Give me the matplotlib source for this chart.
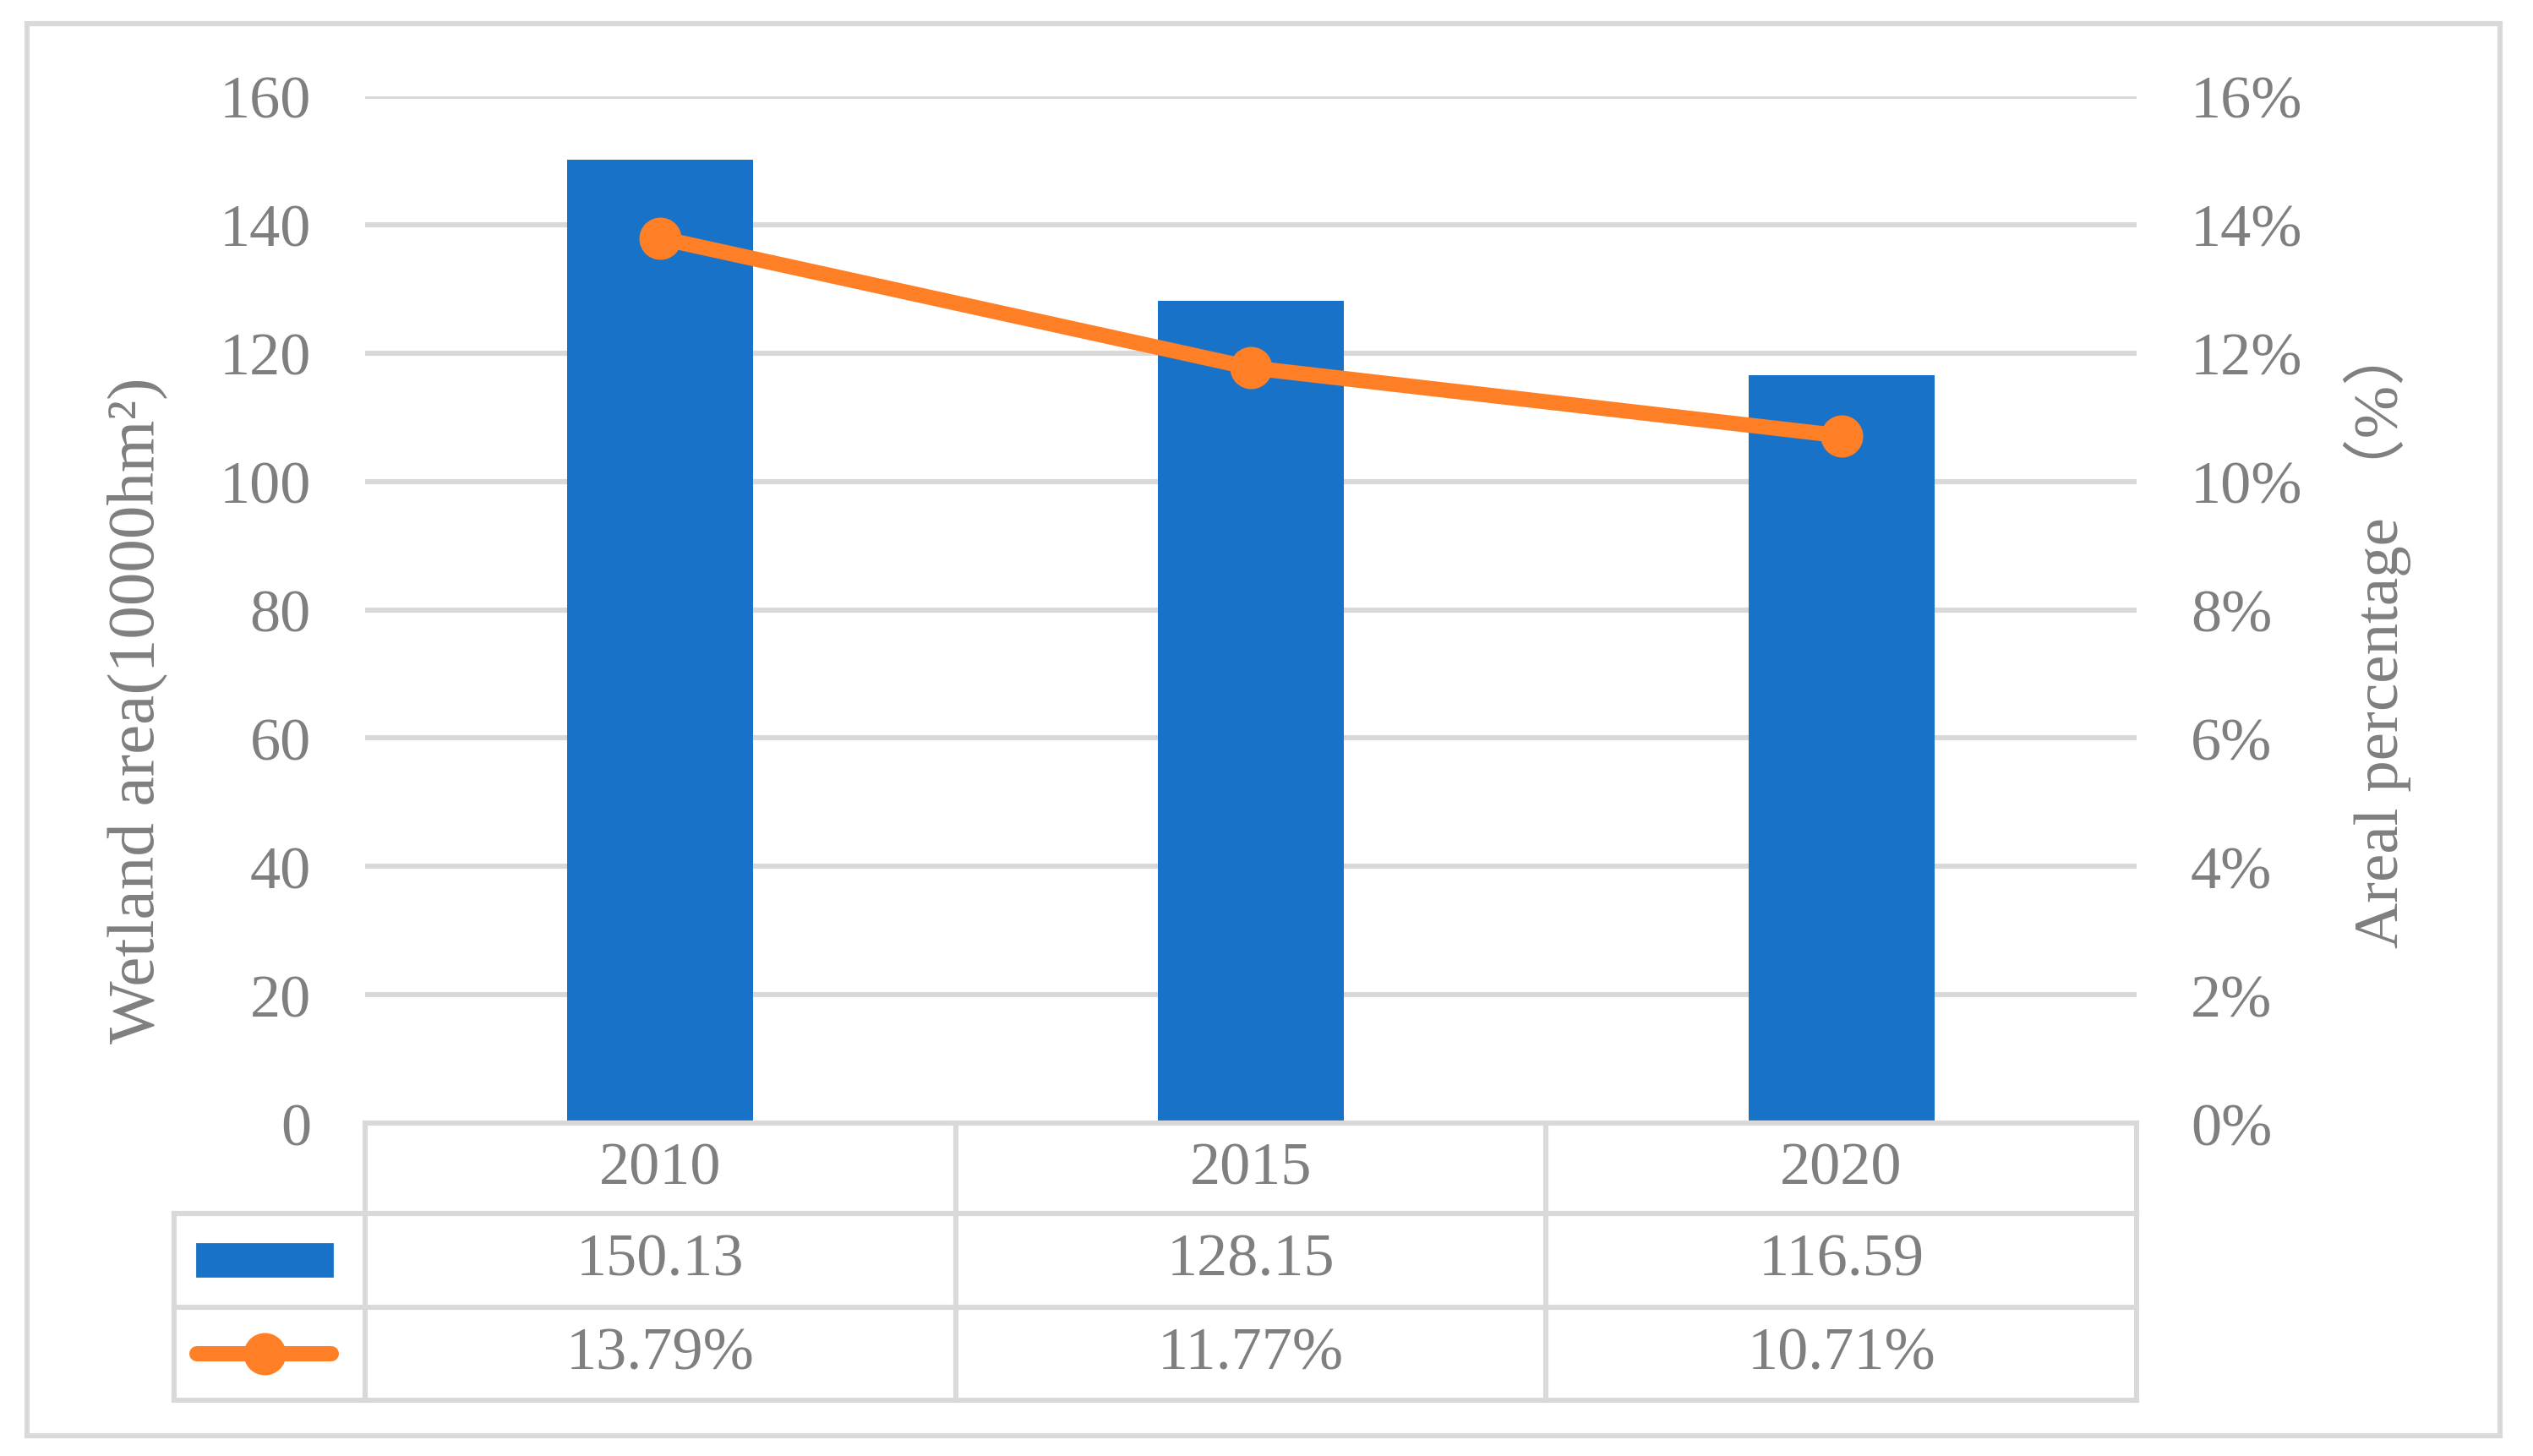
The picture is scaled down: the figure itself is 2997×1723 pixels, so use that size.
import matplotlib.pyplot as plt
from matplotlib.patches import Rectangle
from matplotlib.lines import Line2D

years = ["2010", "2015", "2020"]
area = [150.13, 128.15, 116.59]
pct = [13.79, 11.77, 10.71]
area_ticks = [0, 20, 40, 60, 80, 100, 120, 140, 160]
pct_ticks = [0, 2, 4, 6, 8, 10, 12, 14, 16]

blue = "#1873c8"
orange = "#fe7f26"
grey = "#7f7f7f"
rule = "#d9d9d9"
fam = ["Liberation Serif", "Noto Sans CJK SC", "DejaVu Sans"]
fs = 26

plt.rcParams["font.family"] = fam

fig = plt.figure(figsize=(14.985, 8.62), dpi=200)
ax = fig.add_axes([0.1441, 0.2285, 0.6994, 0.7048])
ax2 = ax.twinx()

x = list(range(len(years)))
ax.bar(x, area, width=0.315, color=blue, zorder=2)
ax2.plot(x, pct, color=orange, lw=6.5, marker="o", ms=17, solid_capstyle="round")

ax.set_xlim(-0.5, 2.5)
ax.set_ylim(0, 160)
ax2.set_ylim(0, 16)
ax.set_yticks(area_ticks)
ax2.set_yticks(pct_ticks)
ax2.set_yticklabels([f"{t}%" for t in pct_ticks])
ax.set_xticks([])
for a in (ax, ax2):
    for s in a.spines.values():
        s.set_visible(False)
    a.tick_params(axis="y", length=0, labelsize=fs, labelcolor=grey, pad=23)
for t in ax.get_yticklabels() + ax2.get_yticklabels():
    t.set_family(fam)

for t in area_ticks[1:]:
    ax.axhline(t, color=rule, lw=2.2, zorder=0)

ax.text(-0.1285, 0.4025, "Wetland area(10000hm²)", transform=ax.transAxes,
        rotation=90, ha="center", va="center", fontsize=28.5, color=grey)
ax.text(1.1358, 0.476, "Areal percentage （%）", transform=ax.transAxes,
        rotation=90, ha="center", va="center", fontsize=27, color=grey)

# data table below the axis
rows = [0.0, -0.088, -0.179, -0.270]
leg_left = -0.1076
kw = dict(transform=ax.transAxes, color=rule, lw=2.2, clip_on=False, zorder=3)
ax.add_line(Line2D([0, 1], [rows[0], rows[0]], **kw))
for r in rows[1:]:
    ax.add_line(Line2D([leg_left, 1], [r, r], **kw))
for c in [0, 1 / 3, 2 / 3, 1]:
    ax.add_line(Line2D([c, c], [rows[0], rows[3]], **kw))
ax.add_line(Line2D([leg_left, leg_left], [rows[1], rows[3]], **kw))

for i, yr in enumerate(years):
    cx = (i + 0.5) / 3
    ax.text(cx, (rows[0] + rows[1]) / 2, yr, transform=ax.transAxes,
            ha="center", va="center", fontsize=fs, color=grey)
    ax.text(cx, (rows[1] + rows[2]) / 2, f"{area[i]:.2f}", transform=ax.transAxes,
            ha="center", va="center", fontsize=fs, color=grey)
    ax.text(cx, (rows[2] + rows[3]) / 2, f"{pct[i]:.2f}%", transform=ax.transAxes,
            ha="center", va="center", fontsize=fs, color=grey)

lx = leg_left / 2 - 0.003
ry = (rows[1] + rows[2]) / 2
ax.add_patch(Rectangle((lx - 0.0383, ry - 0.0157), 0.0766, 0.0314, transform=ax.transAxes,
                       color=blue, clip_on=False))
ry = (rows[2] + rows[3]) / 2
ax.add_line(Line2D([lx - 0.038, lx + 0.038], [ry, ry], transform=ax.transAxes, color=orange,
                   lw=6.5, solid_capstyle="round", clip_on=False))
ax.add_line(Line2D([lx], [ry], transform=ax.transAxes, color=orange, marker="o", ms=17,
                   clip_on=False))

fig.add_artist(Rectangle((0.0107, 0.0139), 0.9763, 0.9691, transform=fig.transFigure,
                         fill=False, edgecolor=rule, lw=2.2))

fig.savefig("out.png", dpi=200)
